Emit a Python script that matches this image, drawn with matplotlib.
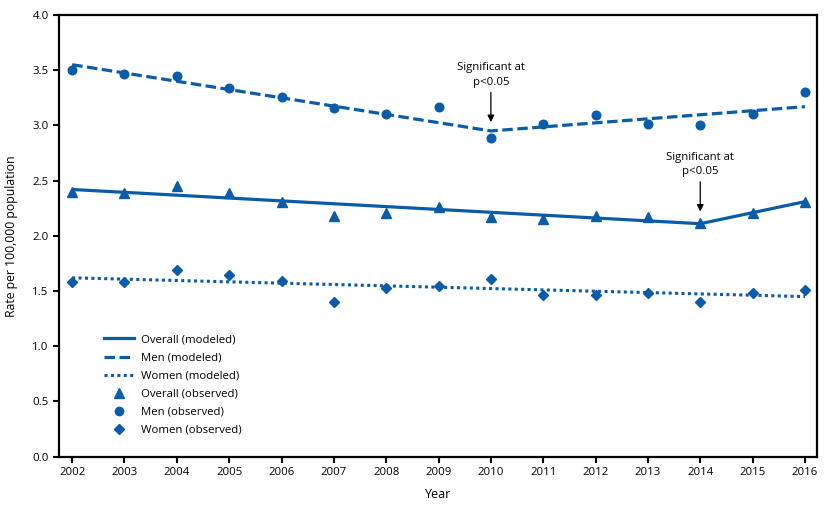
import matplotlib
matplotlib.use('Agg')
import matplotlib.pyplot as plt
from matplotlib.lines import Line2D

# Datos
anios = list(range(2002, 2017))

hombres_obs = [3.50, 3.47, 3.45, 3.34, 3.26, 3.16, 3.10, 3.17, 2.89, 3.01, 3.09, 3.01, 3.00, 3.10, 3.30]
total_obs = [2.40, 2.39, 2.45, 2.39, 2.31, 2.18, 2.21, 2.26, 2.17, 2.15, 2.18, 2.17, 2.12, 2.21, 2.31]
mujeres_obs = [1.58, 1.58, 1.69, 1.65, 1.59, 1.40, 1.53, 1.55, 1.61, 1.46, 1.46, 1.48, 1.40, 1.48, 1.51]

# Modelos (puntos de quiebre)
hombres_mod_x = [2002, 2010, 2016]
hombres_mod_y = [3.55, 2.95, 3.17]
total_mod_x = [2002, 2014, 2016]
total_mod_y = [2.42, 2.11, 2.31]
mujeres_mod_x = [2002, 2016]
mujeres_mod_y = [1.62, 1.45]

anotaciones = [(2010, 3.03), (2014, 2.22)]

azul = '#0a5ca8'
plt.rcParams['font.family'] = ['Open Sans', 'DejaVu Sans']

fig = plt.figure(figsize=(8.28, 5.07), dpi=100)
ax = fig.add_axes([0.0713, 0.0992, 0.9154, 0.8712])

ax.plot(total_mod_x, total_mod_y, color=azul, lw=2.3, solid_capstyle='butt')
ax.plot(hombres_mod_x, hombres_mod_y, color=azul, lw=2.3, linestyle=(0, (3.3, 1.4)))
ax.plot(mujeres_mod_x, mujeres_mod_y, color=azul, lw=2.2, linestyle=(0, (1, 1.1)))

ax.plot(anios, total_obs, '^', color=azul, ms=7.5, ls='none')
ax.plot(anios, hombres_obs, 'o', color=azul, ms=6.2, ls='none')
ax.plot(anios, mujeres_obs, 'D', color=azul, ms=5.5, ls='none')

for x, y in anotaciones:
    ax.annotate('', xy=(x, y), xytext=(x, y + 0.27),
                arrowprops=dict(arrowstyle='-|>', color='black', lw=0.9,
                                mutation_scale=10, shrinkA=0, shrinkB=0))
    ax.text(x, y + 0.31, 'Significant at\np<0.05', ha='center', va='bottom',
            fontsize=8.2, linespacing=1.45)

ax.set_xlim(2001.75, 2016.23)
ax.set_ylim(0, 4.0)
ax.set_xticks(anios)
ax.set_yticks([0, 0.5, 1.0, 1.5, 2.0, 2.5, 3.0, 3.5, 4.0])
ax.set_yticklabels(['0.0', '0.5', '1.0', '1.5', '2.0', '2.5', '3.0', '3.5', '4.0'])
ax.tick_params(axis='both', labelsize=8.2, length=4, width=1.5, direction='out')
for s in ax.spines.values():
    s.set_linewidth(1.6)

ax.set_xlabel('Year', fontsize=9, labelpad=7)
ax.set_ylabel('Rate per 100,000 population', fontsize=8.8, labelpad=10)

handles = [
    Line2D([], [], color=azul, lw=2.3),
    Line2D([], [], color=azul, lw=2.3, linestyle=(0, (3.3, 1.4))),
    Line2D([], [], color=azul, lw=2.2, linestyle=(0, (1, 1.1))),
    Line2D([], [], color=azul, marker='^', ls='none', ms=7),
    Line2D([], [], color=azul, marker='o', ls='none', ms=6),
    Line2D([], [], color=azul, marker='D', ls='none', ms=5.5),
]
etiquetas = ['Overall (modeled)', 'Men (modeled)', 'Women (modeled)',
             'Overall (observed)', 'Men (observed)', 'Women (observed)']
ax.legend(handles, etiquetas, loc='upper left', bbox_to_anchor=(0.046, 0.30),
          frameon=False, fontsize=8.2, handlelength=2.6, handletextpad=0.6,
          labelspacing=0.62)

fig.savefig('out.png', dpi=100)
